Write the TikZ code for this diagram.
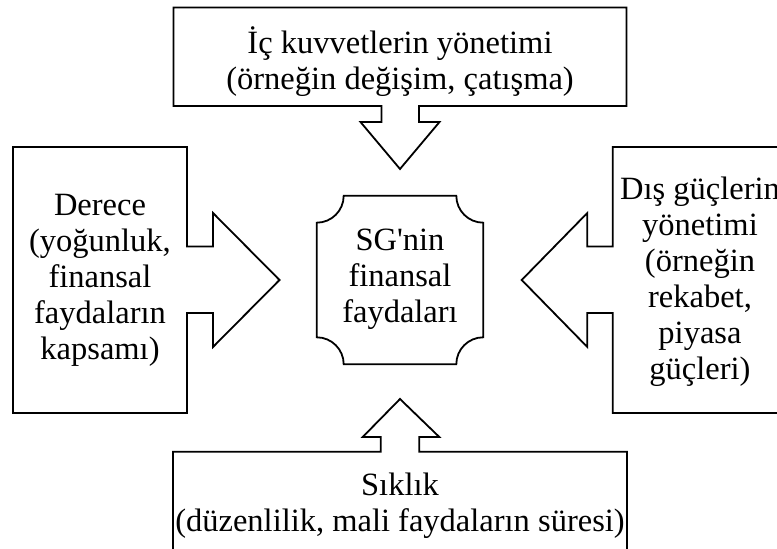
\documentclass[tikz,border=0pt]{standalone}
\usepackage{fontspec}
\setmainfont{Liberation Serif}
\begin{document}
\begin{tikzpicture}[x=1pt,y=1pt,
  callout/.style={draw=black, line width=1.8pt, line join=miter, fill=white},
  plaque/.style={draw=black, line width=1.8pt, fill=white},
  txt/.style={align=center, font=\fontsize{32.5}{36}\selectfont, inner sep=0pt}]
\useasboundingbox (0,0) rectangle (777,549);
\clip (0,0) rectangle (777,549);

% top: internal forces, arrow pointing down
\draw[callout] (173.5,541.5) -- (626.5,541.5) -- (626.5,443) -- (419,443) -- (419,427)
  -- (439.5,427) -- (400,380) -- (360.5,427) -- (381.5,427) -- (381.5,443)
  -- (173.5,443) -- cycle;
\node[txt] (ic) at (400,487) {İç kuvvetlerin yönetimi\\(örneğin değişim, çatışma)};

% left: degree, arrow pointing right
\draw[callout] (13,402) -- (187,402) -- (187,302.5) -- (213,302.5) -- (213,336)
  -- (279.5,269) -- (213,202) -- (213,236) -- (187,236) -- (187,136) -- (13,136) -- cycle;
\node[txt] (derece) at (100,269) {Derece\\(yoğunluk,\\finansal\\faydaların\\kapsamı)};

% right: external forces, arrow pointing left
\draw[callout] (787,402) -- (612.7,402) -- (612.7,302.5) -- (587.3,302.5) -- (587.3,336)
  -- (521.7,269) -- (587.3,202) -- (587.3,236) -- (612.7,236) -- (612.7,136)
  -- (787,136) -- cycle;
\node[txt] (dis) at (700,267) {Dış güçlerin\\yönetimi\\(örneğin\\rekabet,\\piyasa\\güçleri)};

% bottom: frequency, arrow pointing up
\draw[callout] (173,-10) -- (173,97.3) -- (380.7,97.3) -- (380.7,112) -- (362.7,112)
  -- (400,150) -- (439.3,112) -- (419.3,112) -- (419.3,97.3) -- (627,97.3)
  -- (627,-10) -- cycle;
\node[txt] (siklik) at (400,43) {Sıklık\\(düzenlilik, mali faydaların süresi)};

% centre plaque with concave corners
\def\r{27}
\draw[plaque] (316.7+\r,353.3) -- (483.3-\r,353.3)
  arc[start angle=180, end angle=270, radius=\r] -- (483.3,184.7+\r)
  arc[start angle=90, end angle=180, radius=\r] -- (316.7+\r,184.7)
  arc[start angle=0, end angle=90, radius=\r] -- (316.7,353.3-\r)
  arc[start angle=270, end angle=360, radius=\r] -- cycle;
\node[txt] (sg) at (400,270) {SG\textquotesingle nin\\finansal\\faydaları};
\end{tikzpicture}
\end{document}
